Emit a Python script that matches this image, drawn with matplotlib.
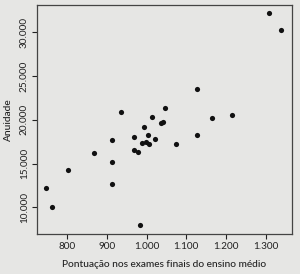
import matplotlib
matplotlib.use("Agg")
import matplotlib.pyplot as plt
from matplotlib.ticker import FuncFormatter

# Data
pontuacao = [1308, 1339, 1128, 1046, 934, 1014, 1041, 1037, 1164, 1214,
             1128, 994, 912, 969, 1003, 1020, 987, 997, 1007, 1073,
             969, 979, 867, 912, 802, 912, 746, 762, 983]
anuidade = [32250, 30267, 23484, 21311, 20892, 20282, 19786, 19634, 20244, 20549,
            18300, 19139, 17690, 18072, 18262, 17843, 17310, 17500, 17271, 17233,
            16547, 16280, 16166, 15137, 14222, 12698, 12202, 10030, 7973]
x_ticks = [800, 900, 1000, 1100, 1200, 1300]
y_ticks = [10000, 15000, 20000, 25000, 30000]
x_label = "Pontuação nos exames finais do ensino médio"
y_label = "Anuidade"

plt.rcParams['font.family'] = ['Lato', 'DejaVu Sans']
bg = "#e6e6e4"
fg = "#222222"

fig = plt.figure(figsize=(3.0, 2.74), dpi=100, facecolor=bg)
ax = fig.add_axes([0.124, 0.146, 0.849, 0.836])
ax.set_facecolor(bg)

ax.scatter(pontuacao, anuidade, s=14, color="#111111", linewidths=0, zorder=3)

ax.set_xlim(724, 1366)
ax.set_ylim(6945, 33124)
ax.set_xticks(x_ticks)
ax.set_yticks(y_ticks)

fmt = FuncFormatter(lambda v, p: f"{int(v):,}".replace(",", "."))
ax.xaxis.set_major_formatter(fmt)
ax.yaxis.set_major_formatter(fmt)

for lab in ax.get_yticklabels():
    lab.set_rotation(90)
    lab.set_va("center")

ax.tick_params(axis='both', direction='out', length=3.5, width=0.8,
               colors=fg, labelsize=7.2, pad=2.5)
for s in ax.spines.values():
    s.set_color("#444444")
    s.set_linewidth(0.9)

ax.set_xlabel(x_label, fontsize=7.3, color=fg, labelpad=6, fontweight="medium")
ax.set_ylabel(y_label, fontsize=7.3, color=fg, labelpad=5, fontweight="medium")

fig.savefig("out.png", dpi=100, facecolor=bg)
